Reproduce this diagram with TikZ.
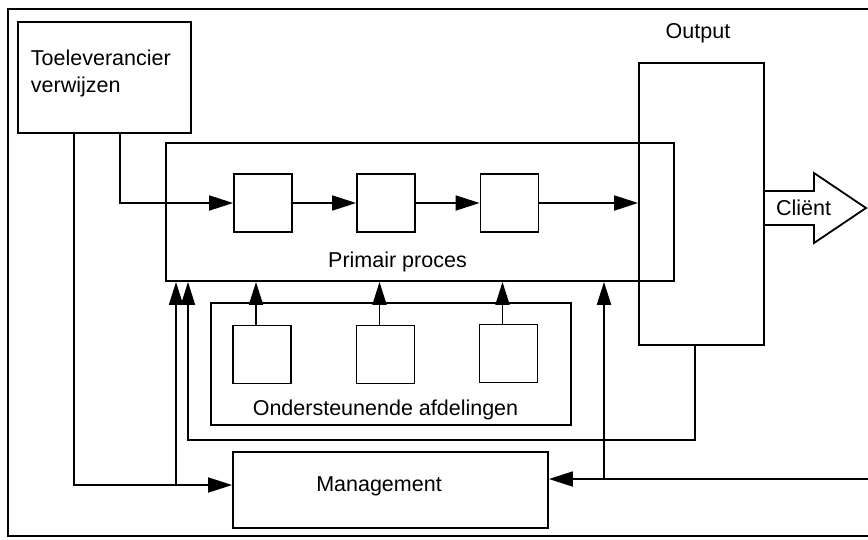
\documentclass[tikz,border=0pt]{standalone}
\usepackage{fontspec}
\setmainfont{Liberation Sans}
\usetikzlibrary{arrows.meta}
\begin{document}
\begin{tikzpicture}[x=1pt,y=-1pt,
  line width=1.8pt,
  box/.style={draw,rectangle,inner sep=0pt,line width=1.8pt},
  sq/.style={box,minimum width=58pt,minimum height=58pt},
  lbl/.style={inner sep=0pt,font=\fontsize{21.5}{27}\selectfont},
  arr/.style={-{Triangle[length=24pt,width=15pt]},line width=1.8pt},
  uarr/.style={-{Triangle[length=23pt,width=14pt]},line width=1.8pt}]
\useasboundingbox (0,0) rectangle (868,539);

% outer frame (open to the right)
\draw (868,9) -- (8,9) -- (8,536) -- (868,536);

% main blocks
\node[box,minimum width=173pt,minimum height=111pt] (toe) at (104.5,77.5) {};
\node[lbl,anchor=west,align=left] (toetxt) at (30,73.5) {Toeleverancier\\verwijzen};

\node[box,minimum width=508pt,minimum height=138pt] (prim) at (420,212) {};
\node[lbl] (primtxt) at (397.5,262) {Primair proces};

\node[box,minimum width=125pt,minimum height=282pt] (out) at (701.5,204) {};
\node[lbl] (outtxt) at (698,33) {Output};

\node[box,minimum width=360pt,minimum height=122pt] (ond) at (391,364) {};
\node[lbl] (ondtxt) at (385.5,410) {Ondersteunende afdelingen};

\node[box,minimum width=315pt,minimum height=76pt] (man) at (390.5,490) {};
\node[lbl] (mantxt) at (379,486) {Management};

% process steps
\node[sq] (p1) at (263,203) {};
\node[sq] (p2) at (386,203) {};
\node[sq] (p3) at (509.5,203) {};

% supporting departments
\node[sq] (s1) at (262,354.5) {};
\node[sq] (s2) at (385.5,354.5) {};
\node[sq] (s3) at (508.5,353.5) {};

% client arrow
\draw (764,191) -- (814,191) -- (814,173) -- (866,208) -- (814,243) -- (814,225) -- (764,225);
\node[lbl] (client) at (803.5,208) {Cliënt};

% junction points
\coordinate (toeA) at (120,133);
\coordinate (toeB) at (74,133);
\coordinate (mj) at (176,485);
\coordinate (fbo) at (695,345);
\coordinate (fbl) at (188,440);
\coordinate (rin) at (868,479);
\coordinate (mr) at (604,479);

% primary flow
\draw[arr] (toeA) |- (p1.west);
\draw[arr] (p1) -- (p2);
\draw[arr] (p2) -- (p3);
\draw[arr] (p3.east) -- (p3.east -| out.west);

% supplier to management, with branch up to the primary process
\draw[arr] (toeB) |- (mj) -- (mj -| man.west);
\draw[uarr] (mj) -- (mj |- prim.south);

% feedback from output
\draw[uarr] (fbo) |- (fbl) -- (fbl |- prim.south);

% support to primary process
\draw[uarr] ([xshift=-6pt]s1.north) -- ([xshift=-6pt]s1.north |- prim.south);
\draw[uarr] ([xshift=-6pt]s2.north) -- ([xshift=-6pt]s2.north |- prim.south);
\draw[uarr] ([xshift=-6pt]s3.north) -- ([xshift=-6pt]s3.north |- prim.south);

% feedback from the client side to management
\draw[arr] (rin) -- (rin -| man.east);
\draw[uarr,line width=2.4pt] (mr) -- (mr |- prim.south);
\end{tikzpicture}
\end{document}
